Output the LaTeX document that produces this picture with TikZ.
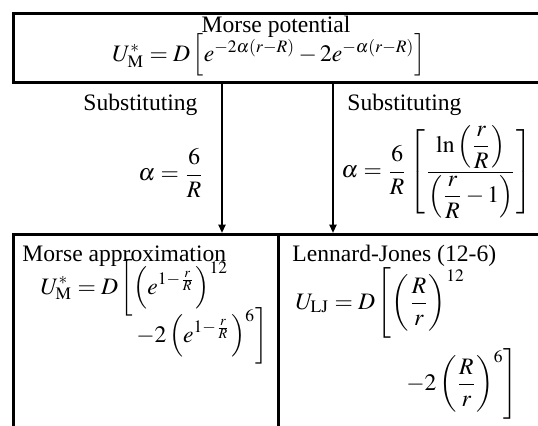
\documentclass[tikz,border=0pt]{standalone}
\usepackage{mathptmx}
\usepackage[no-math]{fontspec}
\setmainfont{Liberation Serif}
\usetikzlibrary{arrows.meta}
\newcommand{\bigfr}[2]{{\displaystyle\frac{#1}{#2}}}
\tikzset{
  box/.style={draw, line width=1.15pt, inner sep=0pt, anchor=north west},
  txt/.style={inner sep=0pt, font=\fontsize{10}{12}\selectfont},
  arr/.style={line width=0.85pt, -{Triangle[width=3pt,length=3.6pt]}}
}
\begin{document}
\begin{tikzpicture}[x=0.424pt, y=-0.424pt]
\useasboundingbox (0,0) rectangle (538,425);
\clip (0,0) rectangle (538,425);
% boxes
\node[box, minimum width=232.4pt, minimum height=29.3pt] (top) at (12,12) {};
\node[box, minimum width=112.4pt, minimum height=92pt] (ml) at (12,233) {};
\node[box, minimum width=120pt, minimum height=92pt] (mr) at (277,233) {};
% top texts
\node[txt, anchor=base] (ttl) at (276,32.5) {Morse potential};
\node[txt, anchor=base] (tf) at (269,61) {$U^*_{\mathrm{M}} = D\left[e^{-2\alpha(r-R)} - 2e^{-\alpha(r-R)}\right]$};
% substitution labels
\node[txt, anchor=base west] (s1) at (83,110) {Substituting};
\node[txt, anchor=west] (a1) at (138,173) {$\displaystyle \alpha = \frac{6}{R}$};
\node[txt, anchor=base west] (s2) at (347,110) {Substituting};
\node[txt, anchor=west] (a2) at (341,172) {$\displaystyle \alpha = \frac{6}{R}\left[\frac{\ln\left(\bigfr{r}{R}\right)}{\left(\bigfr{r}{R}-1\right)}\right]$};
% arrows
\coordinate (x1) at (222,0);
\coordinate (x2) at (333,0);
\draw[arr] (top.south -| x1) -- (ml.north -| x1);
\draw[arr] (top.south -| x2) -- (mr.north -| x2);
% bottom left
\node[txt, anchor=base west] (mt) at (22,261) {Morse approximation};
\node[txt, anchor=base west] (m1) at (40,294) {$\displaystyle U^*_{\mathrm{M}} = D\left[\left(e^{1-\frac{r}{R}}\right)^{12}\right.$};
\node[txt, anchor=base west] (m2) at (133,342) {$\displaystyle \left.-2\left(e^{1-\frac{r}{R}}\right)^{6}\right]$};
% bottom right
\node[txt, anchor=base west] (lt) at (292,261) {Lennard-Jones (12-6)};
\node[txt, anchor=base west] (l1) at (295,309) {$\displaystyle U_{\mathrm{LJ}} = D\left[\left(\frac{R}{r}\right)^{12}\right.$};
\node[txt, anchor=base west] (l2) at (403,390) {$\displaystyle \left.-2\left(\frac{R}{r}\right)^{6}\right]$};
\end{tikzpicture}
\end{document}
